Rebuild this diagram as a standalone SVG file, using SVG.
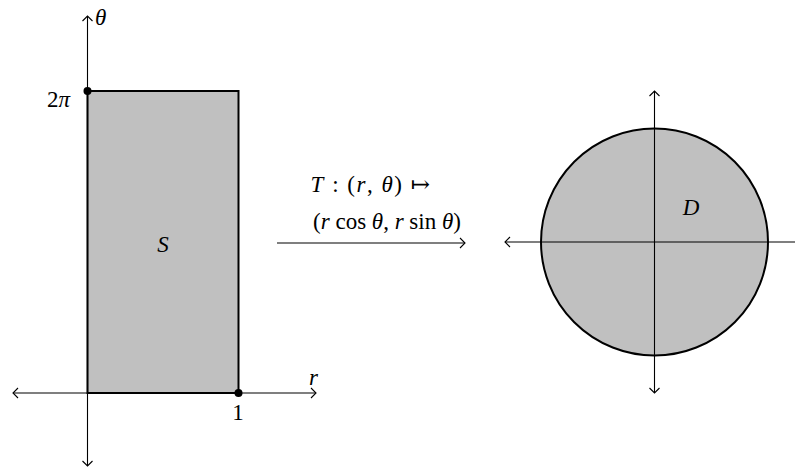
<svg xmlns="http://www.w3.org/2000/svg" width="795" height="470" viewBox="0 0 795 470">
<style>
.ax{stroke:#000;stroke-width:1.1;fill:none}
.sh{fill:#c0c0c0;stroke:#000;stroke-width:2}
text{font-family:"Liberation Serif","DejaVu Serif",serif;font-size:23px;fill:#000}
.i{font-style:italic}
</style>
<defs>
<marker id="to" viewBox="-6 -6 8 12" markerWidth="8" markerHeight="12" refX="0" refY="0" orient="auto-start-reverse" markerUnits="userSpaceOnUse">
<path d="M-5,-5 Q-1,-1 0,0 Q-1,1 -5,5" fill="none" stroke="#000" stroke-width="1.1"/>
</marker>
</defs>
<g id="region-S">
<rect class="sh" x="87.5" y="91" width="151" height="302"/>
<text class="i" x="163" y="252" text-anchor="middle">S</text>
</g>
<g id="region-D">
<circle class="sh" cx="654.5" cy="242" r="113.5"/>
<text class="i" x="691" y="215" text-anchor="middle">D</text>
</g>
<g id="connectors">
<line class="ax" x1="87.5" y1="466" x2="87.5" y2="16" marker-start="url(#to)" marker-end="url(#to)"/>
<line class="ax" x1="13" y1="393" x2="316" y2="393" marker-start="url(#to)" marker-end="url(#to)"/>
<line class="ax" x1="654.5" y1="393" x2="654.5" y2="91" marker-start="url(#to)" marker-end="url(#to)"/>
<line class="ax" x1="505" y1="242" x2="795" y2="242" marker-start="url(#to)"/>
<line class="ax" x1="277" y1="243" x2="465" y2="243" marker-end="url(#to)"/>
</g>
<g id="points">
<circle cx="87.5" cy="91" r="4"/>
<circle cx="238.5" cy="393" r="4"/>
</g>
<g id="labels">
<text class="i" x="95" y="25">θ</text>
<text x="47" y="107">2<tspan class="i">π</tspan></text>
<text class="i" x="309" y="385">r</text>
<text x="238" y="420" text-anchor="middle">1</text>
<text x="371" y="192" text-anchor="middle" letter-spacing="1.5"><tspan class="i">T</tspan> : (<tspan class="i">r</tspan>, <tspan class="i">θ</tspan>) ↦</text>
<text x="387" y="229" text-anchor="middle">(<tspan class="i">r</tspan> cos <tspan class="i">θ</tspan>, <tspan class="i">r</tspan> sin <tspan class="i">θ</tspan>)</text>
</g>
</svg>
